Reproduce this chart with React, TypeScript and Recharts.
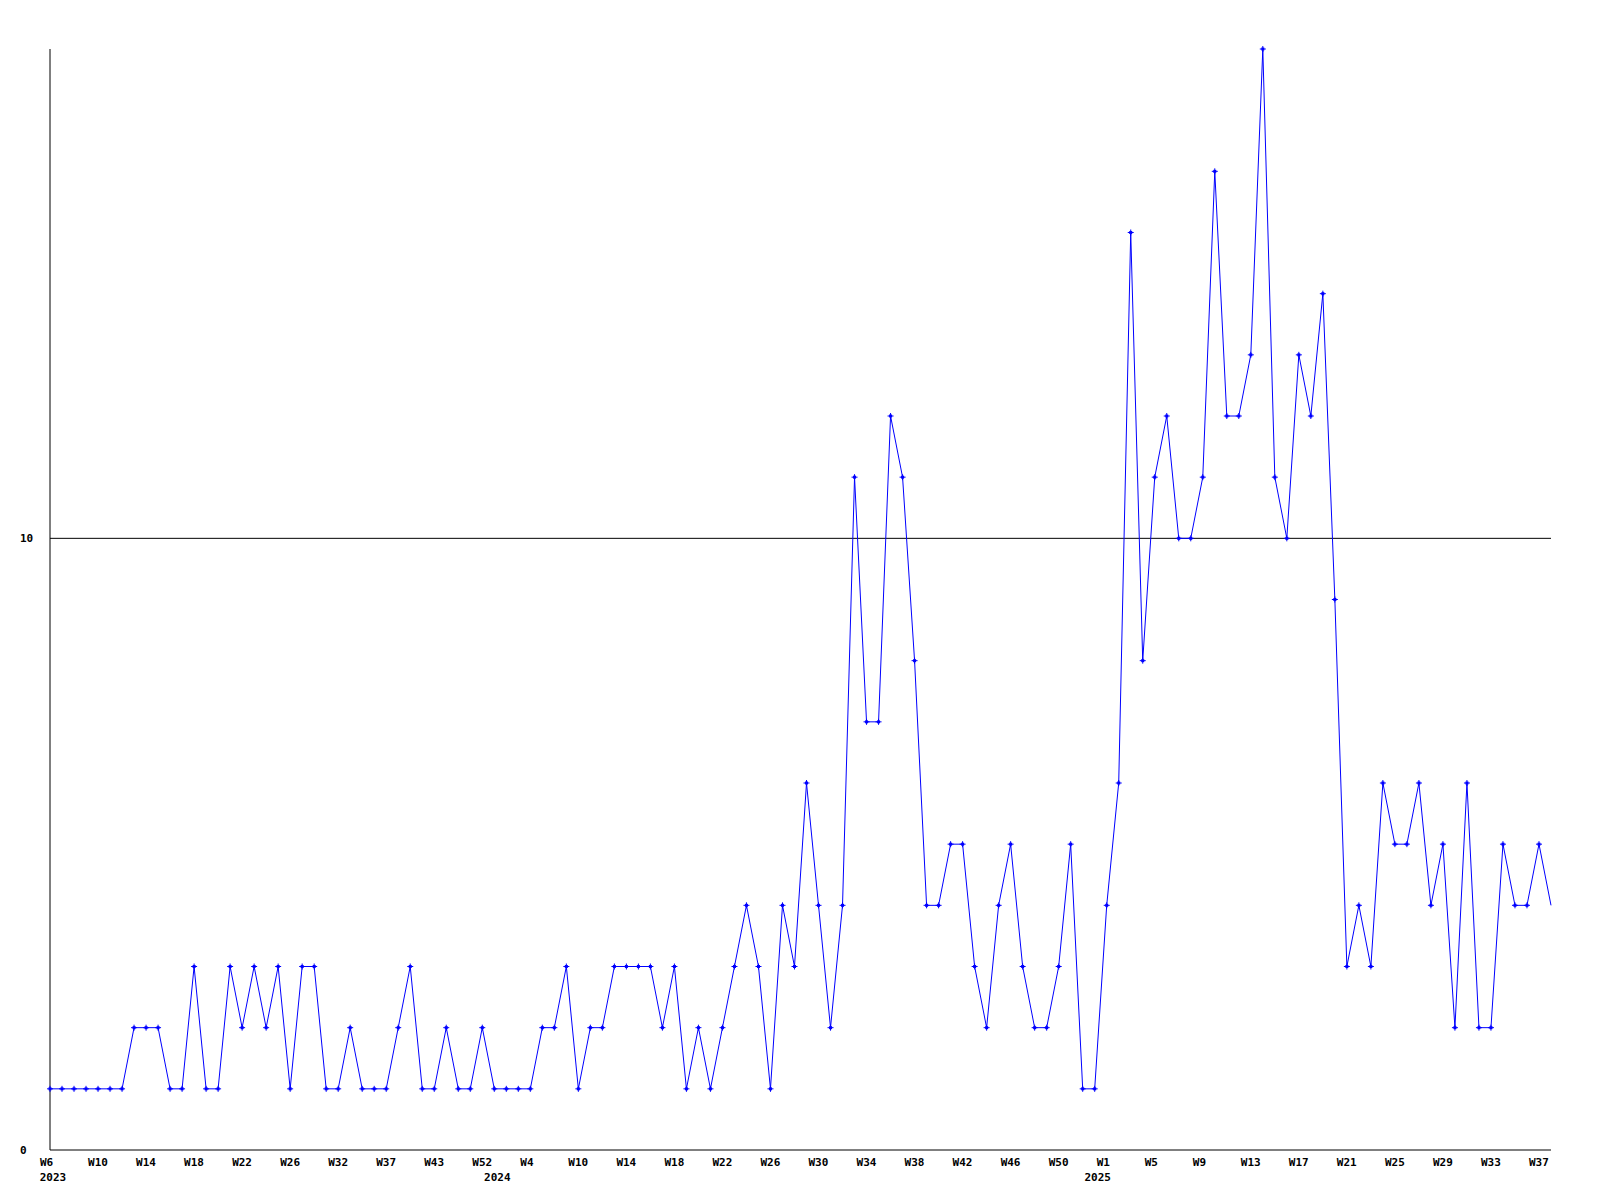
import { LineChart, Line, XAxis, YAxis, ReferenceLine } from 'recharts'

// weekly counts, split by year
const counts2023 = [1, 1, 1, 1, 1, 1, 1, 2, 2, 2, 1, 1, 3, 1, 1, 3, 2, 3, 2, 3, 1, 3, 3, 1, 1, 2, 1, 1, 1, 2, 3, 1, 1, 2, 1, 1, 2]
const counts2024 = [1, 1, 1, 1, 2, 2, 3, 1, 2, 2, 3, 3, 3, 3, 2, 3, 1, 2, 1, 2, 3, 4, 3, 1, 4, 3, 6, 4, 2, 4, 11, 7, 7, 12, 11, 8, 4, 4, 5, 5, 3, 2, 4, 5, 3, 2, 2, 3, 5, 1]
const counts2025 = [1, 4, 6, 15, 8, 11, 12, 10, 10, 11, 16, 12, 12, 13, 18, 11, 10, 13, 12, 14, 9, 3, 4, 3, 6, 5, 5, 6, 4, 5, 2, 6, 2, 2, 5, 4, 4, 5, 4]

// one label every 4 weeks
const weekTicks = ['W6', 'W10', 'W14', 'W18', 'W22', 'W26', 'W32', 'W37', 'W43', 'W52', 'W4', 'W10', 'W14', 'W18', 'W22', 'W26', 'W30', 'W34', 'W38', 'W42', 'W46', 'W50', 'W1', 'W5', 'W9', 'W13', 'W17', 'W21', 'W25', 'W29', 'W33', 'W37']
const years = ['2023', '2024', '2025']
const yAxisTicks = [0, 10]

const series = [counts2023, counts2024, counts2025]
const values = series.flat()
const data = values.map((count, i) => ({ i, count }))

const yearStarts: number[] = []
series.reduce((start, arr) => {
  yearStarts.push(start)
  return start + arr.length
}, 0)

const TICK_STEP = 4
const weekTickIdx = weekTicks.map((_, k) => k * TICK_STEP)

const font = { fontFamily: '"DejaVu Sans Mono", monospace', fontWeight: 700, fontSize: 11 }

function WeekTick({ x, payload }: any) {
  const label = weekTicks[payload.value / TICK_STEP]
  // labels start at a fixed offset left of the point
  return (
    <text x={x - 10} y={1166} textAnchor="start" fill="#000" style={font}>
      {label}
    </text>
  )
}

function YearTick({ x, payload }: any) {
  const label = years[yearStarts.indexOf(payload.value)]
  return (
    <text x={x + 3} y={1181} textAnchor="middle" fill="#000" style={font}>
      {label}
    </text>
  )
}

function CountTick({ y, payload }: any) {
  return (
    <text x={20} y={y + 4} textAnchor="start" fill="#000" style={font}>
      {payload.value}
    </text>
  )
}

function Marker({ cx, cy, index }: any) {
  if (index === values.length - 1) return <g key={index} />
  return (
    <g key={index}>
      <path d={`M${cx - 3},${cy}h6M${cx},${cy - 3}v6`} stroke="#0000ff" strokeWidth={1} />
      <rect x={cx - 1.5} y={cy - 1.5} width={3} height={3} fill="#0000ff" />
    </g>
  )
}

export default function App() {
  return (
    <div style={{ position: 'absolute', left: 0, top: 0, width: 1600, height: 1200, background: '#fff' }}>
      <LineChart width={1600} height={1200} data={data} margin={{ top: 49, right: 49, bottom: 0, left: 0 }}>
        <XAxis
          dataKey="i"
          type="category"
          height={30}
          ticks={weekTickIdx}
          interval={0}
          tickLine={false}
          axisLine={{ stroke: '#000' }}
          tick={<WeekTick />}
        />
        <XAxis
          xAxisId="year"
          dataKey="i"
          type="category"
          height={20}
          ticks={yearStarts}
          interval={0}
          tickLine={false}
          axisLine={false}
          tick={<YearTick />}
        />
        <YAxis
          width={50}
          domain={[0, 18]}
          ticks={yAxisTicks}
          interval={0}
          tickLine={false}
          axisLine={{ stroke: '#000' }}
          tick={<CountTick />}
        />
        <ReferenceLine y={10} stroke="#000" strokeWidth={1} />
        <Line
          type="linear"
          dataKey="count"
          stroke="#0000ff"
          strokeWidth={1}
          dot={<Marker />}
          activeDot={false}
          isAnimationActive={false}
        />
      </LineChart>
    </div>
  )
}
